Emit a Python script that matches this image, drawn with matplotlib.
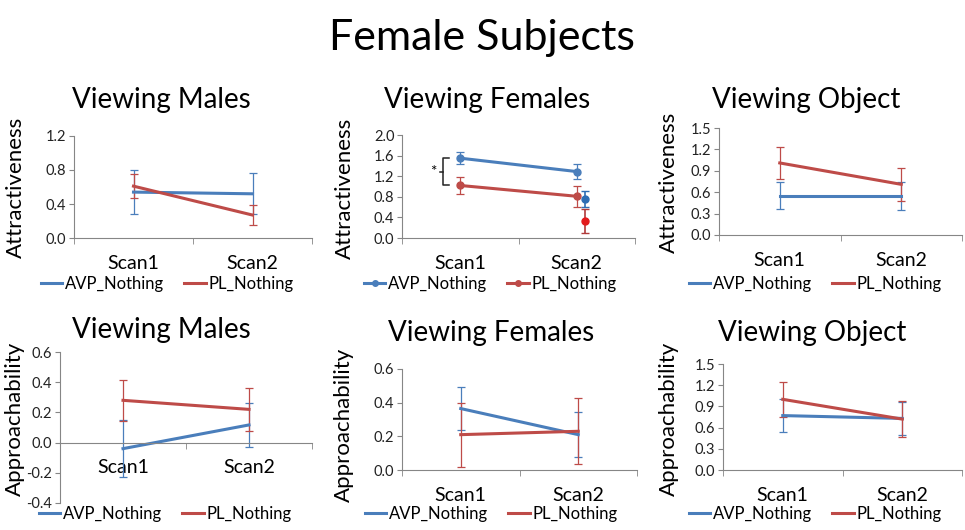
import matplotlib
matplotlib.use("Agg")
from matplotlib import pyplot as plt
from matplotlib.lines import Line2D

plt.rcParams["font.family"] = ["Lato", "DejaVu Sans"]

# chart values
scans = ["Scan1", "Scan2"]
series_names = ["AVP_Nothing", "PL_Nothing"]

males_attr_avp = [0.54, 0.52]
males_attr_avp_err = [0.26, 0.24]
males_attr_pl = [0.61, 0.27]
males_attr_pl_err = [0.145, 0.115]

females_attr_avp = [1.55, 1.29]
females_attr_avp_err = [0.12, 0.15]
females_attr_pl = [1.02, 0.81]
females_attr_pl_err = [0.17, 0.20]
# extra single points next to Scan2 in the "Viewing Females" chart
extra_avp = 0.76
extra_avp_err = 0.15
extra_pl = 0.33
extra_pl_err = 0.24

object_attr_avp = [0.55, 0.55]
object_attr_avp_err = [0.19, 0.195]
object_attr_pl = [1.01, 0.71]
object_attr_pl_err = [0.23, 0.23]

males_appr_avp = [-0.04, 0.117]
males_appr_avp_err = [0.19, 0.148]
males_appr_pl = [0.28, 0.22]
males_appr_pl_err = [0.135, 0.14]

females_appr_avp = [0.365, 0.21]
females_appr_avp_err = [0.13, 0.135]
females_appr_pl = [0.21, 0.23]
females_appr_pl_err = [0.19, 0.195]

object_appr_avp = [0.77, 0.73]
object_appr_avp_err = [0.23, 0.23]
object_appr_pl = [1.00, 0.72]
object_appr_pl_err = [0.25, 0.25]

BLUE = "#4A7EBB"
RED = "#BE4B48"
GRID = "#868686"
W, H = 965, 530

fig = plt.figure(figsize=(W / 100, H / 100), dpi=100)


def px_axes(left, top, right, bottom):
    return fig.add_axes([left / W, 1 - bottom / H, (right - left) / W, (bottom - top) / H])


def draw_panel(box, avp, avp_err, pl, pl_err, ylim, ystep, ylabel, ylab_xy,
               leg_xy, markers=False):
    ax = px_axes(*box)
    x = list(range(len(scans)))
    mk = "o" if markers else None
    ax.errorbar(x, avp, yerr=avp_err, color=BLUE, lw=2.2, marker=mk, ms=5,
                elinewidth=0.9, capsize=3, capthick=0.9)
    ax.errorbar(x, pl, yerr=pl_err, color=RED, lw=2.2, marker=mk, ms=5,
                elinewidth=0.9, capsize=3, capthick=0.9)
    ax.set_xlim(-0.5, 1.5)
    ax.set_ylim(*ylim)
    n = int(round((ylim[1] - ylim[0]) / ystep))
    yt = [ylim[0] + i * ystep for i in range(n + 1)]
    ax.set_yticks(yt)
    ax.set_yticklabels([f"{v:.1f}" for v in yt])
    ax.set_xticks(x)
    ax.set_xticklabels(scans)
    ax.set_xticks([-0.5, 0.5, 1.5], minor=True)
    ax.tick_params(axis="x", which="major", length=0, pad=12, labelsize=14)
    ax.tick_params(axis="x", which="minor", length=4, color=GRID, direction="out")
    ax.tick_params(axis="y", length=3.5, color=GRID, direction="out", pad=2,
                   labelsize=10.5, labelcolor="#222222")
    for s in ["top", "right"]:
        ax.spines[s].set_visible(False)
    ax.spines["bottom"].set_position(("data", 0))
    ax.spines["left"].set_color(GRID)
    ax.spines["bottom"].set_color(GRID)
    ax.patch.set_alpha(0)
    fig.text(ylab_xy[0] / W, 1 - ylab_xy[1] / H, ylabel, rotation=90,
             ha="center", va="center", fontsize=16)
    handles = [Line2D([], [], color=BLUE, lw=2.2, marker=mk, ms=4),
               Line2D([], [], color=RED, lw=2.2, marker=mk, ms=4)]
    fig.legend(handles, series_names, loc="center", ncol=2, frameon=False,
               bbox_to_anchor=(leg_xy[0] / W, 1 - leg_xy[1] / H),
               fontsize=12, handlelength=1.3, handletextpad=0.15,
               columnspacing=1.2, borderaxespad=0)
    return ax


draw_panel((74, 136, 312, 238), males_attr_avp, males_attr_avp_err,
           males_attr_pl, males_attr_pl_err, (0, 1.2), 0.4,
           "Attractiveness", (16, 187), (167, 284))
ax2 = draw_panel((402, 135, 635, 238), females_attr_avp, females_attr_avp_err,
                 females_attr_pl, females_attr_pl_err, (0, 2.0), 0.4,
                 "Attractiveness", (345, 188), (490, 284), markers=True)
ax2.errorbar([1.07], [extra_avp], yerr=[extra_avp_err], color="#2E6DB4",
             marker="o", ms=5, elinewidth=1.2, capsize=3, capthick=1.0)
ax2.errorbar([1.07], [extra_pl], yerr=[extra_pl_err], color="#E31A1C",
             marker="o", ms=5, elinewidth=1.2, capsize=3, capthick=1.0,
             ecolor="#B03A3A")
# significance bracket between the Scan1 means
top_y, bot_y = females_attr_avp[0], females_attr_pl[0]
mid_y = (top_y + bot_y) / 2
ax2.plot([-0.10, -0.148, -0.148, -0.10], [top_y, top_y, bot_y, bot_y],
         color="#222222", lw=1.1, clip_on=False)
ax2.plot([-0.148, -0.17], [mid_y, mid_y], color="#222222", lw=1.1, clip_on=False)
ax2.text(-0.235, mid_y, "*", ha="center", va="center", fontsize=11)

draw_panel((719, 128, 962, 235), object_attr_avp, object_attr_avp_err,
           object_attr_pl, object_attr_pl_err, (0, 1.5), 0.3,
           "Attractiveness", (669, 182), (815, 284))
draw_panel((60, 352, 312, 503), males_appr_avp, males_appr_avp_err,
           males_appr_pl, males_appr_pl_err, (-0.4, 0.6), 0.2,
           "Approachability", (15, 419), (165, 514))
draw_panel((402, 369, 637, 470), females_appr_avp, females_appr_avp_err,
           females_appr_pl, females_appr_pl_err, (0, 0.6), 0.2,
           "Approachability", (344, 425), (491, 514))
draw_panel((723, 364, 962, 470), object_appr_avp, object_appr_avp_err,
           object_appr_pl, object_appr_pl_err, (0, 1.5), 0.3,
           "Approachability", (669, 419), (815, 514))

fig.text(482 / W, 1 - 38 / H, "Female Subjects", ha="center", va="center", fontsize=31)
for cx, cy, t in [(161, 100, "Viewing Males"), (487, 100, "Viewing Females"),
                  (806, 100, "Viewing Object"), (161, 330, "Viewing Males"),
                  (491, 333, "Viewing Females"), (812, 333, "Viewing Object")]:
    fig.text(cx / W, 1 - cy / H, t, ha="center", va="center", fontsize=20)

fig.savefig("out.png", dpi=100)
